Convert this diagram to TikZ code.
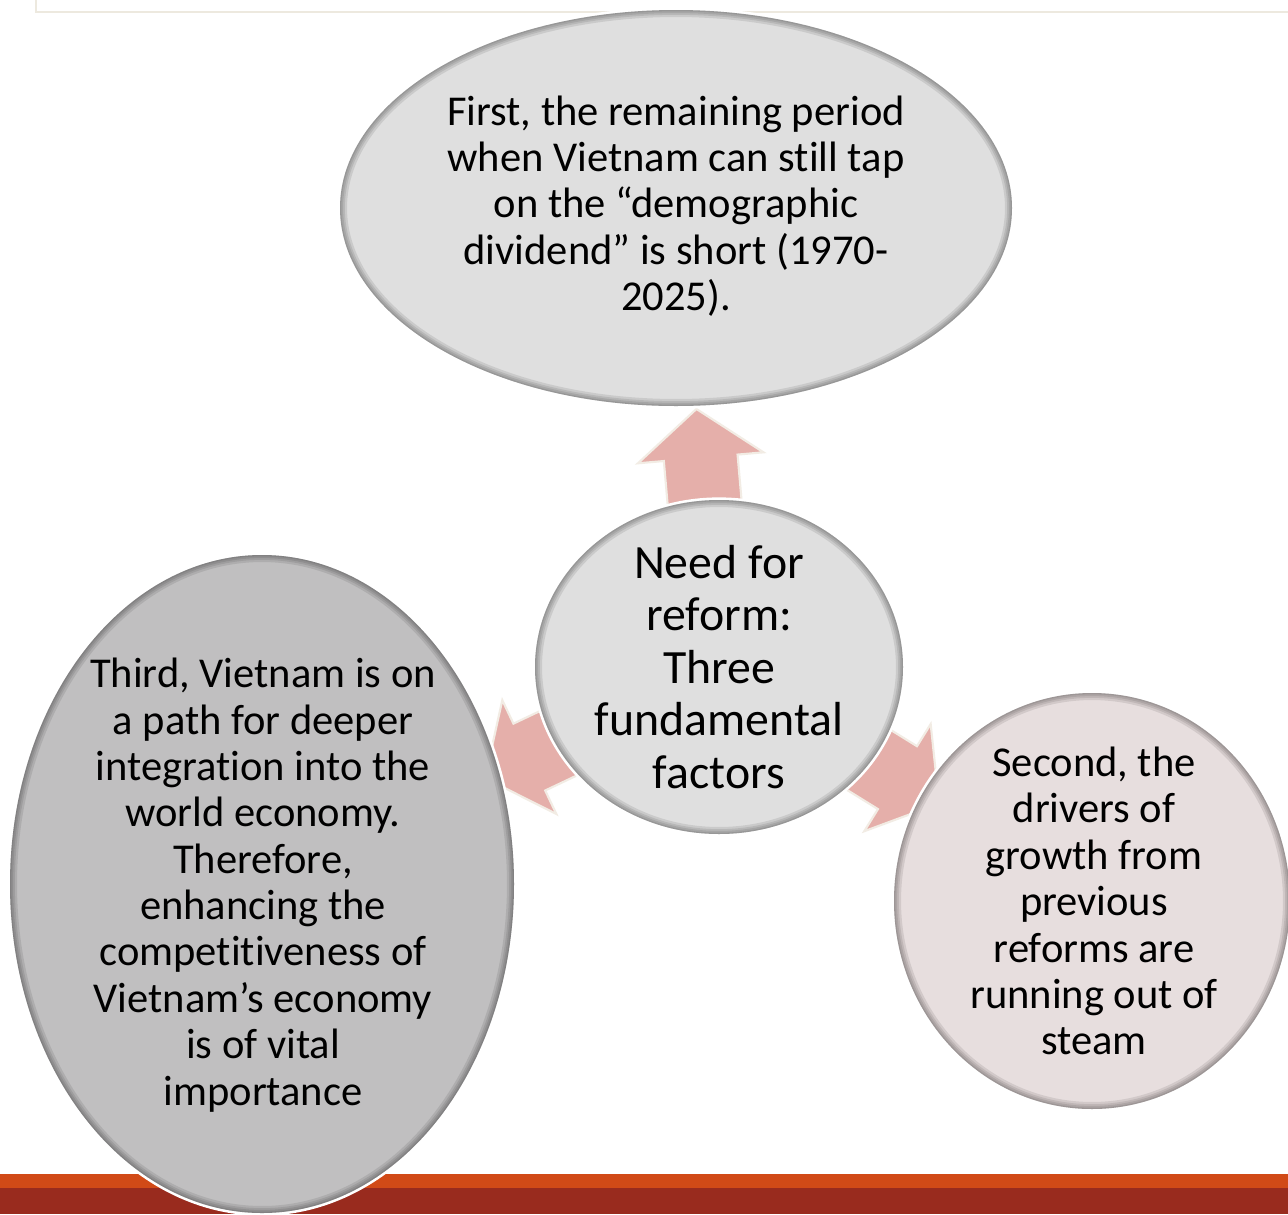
\documentclass[tikz,border=0pt]{standalone}
\usepackage{fontspec}
\setmainfont{Carlito}[Ligatures=NoCommon]
\definecolor{bubgray}{HTML}{DFDFDF}
\definecolor{bubdark}{HTML}{C0BFC0}
\definecolor{bubpink}{HTML}{E7DEDE}
\definecolor{arrowpink}{HTML}{E5AFAA}
\definecolor{arrowrim}{HTML}{F2ECE4}
\definecolor{framecol}{HTML}{EDE9DF}
\definecolor{orangebar}{HTML}{D14A17}
\definecolor{redbar}{HTML}{992B1E}
\newcommand\mybubble[5]{%
  \draw[white, line width=3pt] (#1,#2) ellipse [x radius=#3, y radius=#4];
  \fill[#5] (#1,#2) ellipse [x radius=#3, y radius=#4];
  \begin{scope}
    \clip (#1,#2) ellipse [x radius=#3, y radius=#4];
    \foreach \w in {8pt,5.5pt,3.5pt,1.5pt}
      \draw[black, opacity=0.09, line width=\w] (#1,#2) ellipse [x radius=#3, y radius=#4];
  \end{scope}}
\tikzset{
  blockarrow/.style={fill=arrowpink, draw=arrowrim, line width=1.2pt, line join=miter},
  outertxt/.style={align=center, font=\fontsize{24.2}{26.4}\selectfont, text=black, inner sep=0pt},
  centertxt/.style={align=center, font=\fontsize{27.2}{29.9}\selectfont, text=black, inner sep=0pt},
}
\begin{document}
\begin{tikzpicture}[x=0.02cm, y=-0.02cm]
\useasboundingbox (0,0) rectangle (1288,1214);
\clip (0,0) rectangle (1288,1214);
\fill[white] (0,0) rectangle (1288,1214);
% frame line at top
\draw[framecol, line width=1.2pt] (36,-5) -- (36,12) -- (1295,12);
% bottom bars
\fill[orangebar] (0,1174) rectangle (1288,1188);
\fill[redbar] (0,1188) rectangle (1288,1214);
% block arrows
\foreach \ang in {95,205.4,-31.8}{
  \begin{scope}[shift={(719,667)}, rotate=\ang]
    \draw[blockarrow] (150,-37) -- (210,-37) -- (210,-63) -- (259,0) -- (210,63) -- (210,37) -- (150,37) -- cycle;
  \end{scope}}
% bubbles
\mybubble{676}{208}{336}{198}{bubgray}
\mybubble{719}{667}{184}{167}{bubgray}
\mybubble{262}{884}{252}{329}{bubdark}
\mybubble{1092}{901}{198}{208}{bubpink}
% texts
\node[outertxt] (first) at (676,206) {First, the remaining period\\when Vietnam can still tap\\on the “demographic\\dividend” is short (1970-\\2025).};
\node[centertxt] (need) at (719,667) {Need for\\reform:\\Three\\fundamental\\factors};
\node[outertxt] (third) at (263,885) {Third, Vietnam is on\\a path for deeper\\integration into the\\world economy.\\Therefore,\\enhancing the\\competitiveness of\\Vietnam’s economy\\is of vital\\importance};
\node[outertxt] (second) at (1094,901) {Second, the\\drivers of\\growth from\\previous\\reforms are\\running out of\\steam};
\end{tikzpicture}
\end{document}
